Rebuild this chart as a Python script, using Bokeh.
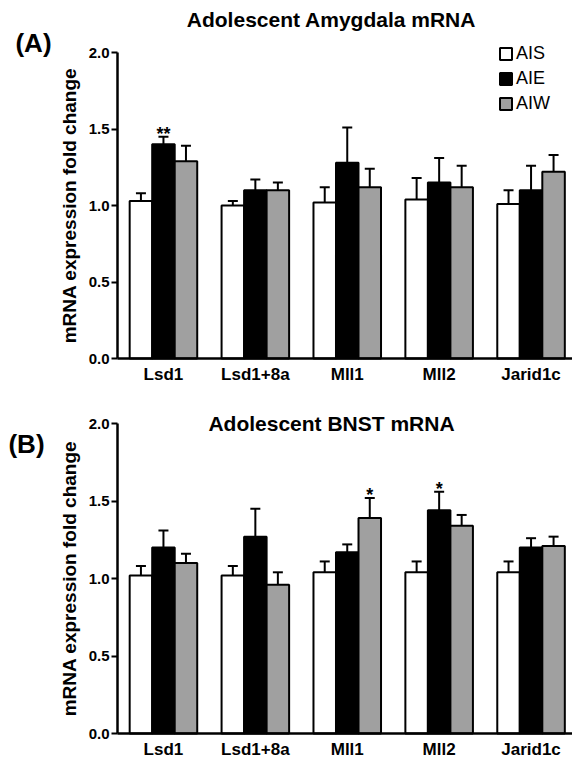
from bokeh.plotting import figure
from bokeh.models import (ColumnDataSource, Range1d, FixedTicker, Whisker, TeeHead,
                          Legend, LegendItem, Label, NumeralTickFormatter, LinearAxis)
from bokeh.layouts import column
from bokeh.core.properties import value
from bokeh.embed import file_html
from bokeh.resources import INLINE

categories = ["Lsd1", "Lsd1+8a", "Mll1", "Mll2", "Jarid1c"]
groups = ["AIS", "AIE", "AIW"]
colors = ["white", "black", "#a0a0a0"]
y_ticks = [0.0, 0.5, 1.0, 1.5, 2.0]

# Panel A: Adolescent Amygdala mRNA (mean fold change and SEM)
amyg_ais = [1.03, 1.00, 1.02, 1.04, 1.01]
amyg_ais_sem = [0.05, 0.03, 0.10, 0.14, 0.09]
amyg_aie = [1.40, 1.10, 1.28, 1.15, 1.10]
amyg_aie_sem = [0.05, 0.07, 0.23, 0.16, 0.16]
amyg_aiw = [1.29, 1.10, 1.12, 1.12, 1.22]
amyg_aiw_sem = [0.10, 0.05, 0.12, 0.14, 0.11]
amyg_ais_sig = ["", "", "", "", ""]
amyg_aie_sig = ["**", "", "", "", ""]
amyg_aiw_sig = ["", "", "", "", ""]

# Panel B: Adolescent BNST mRNA
bnst_ais = [1.02, 1.02, 1.04, 1.04, 1.04]
bnst_ais_sem = [0.06, 0.06, 0.07, 0.07, 0.07]
bnst_aie = [1.20, 1.27, 1.17, 1.44, 1.20]
bnst_aie_sem = [0.11, 0.18, 0.05, 0.12, 0.06]
bnst_aiw = [1.10, 0.96, 1.39, 1.34, 1.21]
bnst_aiw_sem = [0.06, 0.08, 0.13, 0.07, 0.06]
bnst_ais_sig = ["", "", "", "", ""]
bnst_aie_sig = ["", "", "", "*", ""]
bnst_aiw_sig = ["", "", "*", "", ""]

FONT = "Liberation Sans"
BAR_W = 0.245
OFFSETS = [-0.245, 0.0, 0.245]
W = 572
AXIS_X = 117          # pixel column of the y axis
X_UNIT = 91.9         # pixels per category


def make_panel(title, tag, series, height, y0_px, y_unit, tag_pos, title_pos, legend_pos):
    # the frame covers the whole canvas; axes are pinned at x=0 / y=0
    x_start = -AXIS_X / X_UNIT
    x_end = (W - AXIS_X) / X_UNIT
    y_start = -(height - y0_px) / y_unit
    y_end = y0_px / y_unit
    p = figure(width=W, height=height, output_backend="svg", toolbar_location=None,
               x_range=Range1d(x_start, x_end), y_range=Range1d(y_start, y_end),
               x_axis_location=None, y_axis_location=None,
               min_border=0, min_border_left=0, min_border_right=0,
               min_border_top=0, min_border_bottom=0)
    p.xgrid.visible = False
    p.ygrid.visible = False
    p.outline_line_color = None
    p.background_fill_color = "white"
    p.border_fill_color = "white"

    renderers = []
    for k, (vals, sem, sig) in enumerate(series):
        xs = [i + 0.5 + OFFSETS[k] for i in range(len(categories))]
        upper = [v + s for v, s in zip(vals, sem)]
        src = ColumnDataSource(dict(x=xs, top=vals, upper=upper))
        wh = Whisker(source=src, base="x", lower="top", upper="upper", dimension="height",
                     line_width=2, line_color="black",
                     upper_head=TeeHead(size=10, line_width=2, line_color="black"),
                     lower_head=None)
        p.add_layout(wh)
        r = p.vbar(x="x", top="top", width=BAR_W, source=src, fill_color=colors[k],
                   line_color="black", line_width=2)
        renderers.append(r)
        sx = [x for x, s in zip(xs, sig) if s]
        sy = [u for u, s in zip(upper, sig) if s]
        st = [s for s in sig if s]
        if st:
            p.text(x=sx, y=sy, text=st, text_align="center", text_baseline="alphabetic",
                   text_font=value(FONT), text_font_size="18px", text_font_style="bold",
                   text_color="black", y_offset=-3)

    ya = LinearAxis(fixed_location=0, bounds=(0, 2))
    ya.ticker = FixedTicker(ticks=y_ticks)
    ya.formatter = NumeralTickFormatter(format="0.0")
    ya.major_tick_out = 6
    ya.major_tick_in = 0
    ya.minor_tick_out = 0
    ya.minor_tick_in = 0
    ya.major_tick_line_width = 2
    ya.axis_line_width = 2.5
    ya.major_label_standoff = 2
    ya.major_label_text_font = FONT
    ya.major_label_text_font_size = "15px"
    ya.major_label_text_font_style = "bold"
    ya.major_label_text_color = "black"
    ya.axis_label = "mRNA expression fold change"
    ya.axis_label_text_font = FONT
    ya.axis_label_text_font_size = "19px"
    ya.axis_label_text_font_style = "bold"
    ya.axis_label_text_color = "black"
    ya.axis_label_standoff = 6
    p.add_layout(ya, "left")

    xa = LinearAxis(fixed_location=0, bounds=(0, x_end))
    xa.ticker = FixedTicker(ticks=[i + 0.5 for i in range(len(categories))])
    xa.major_label_overrides = {i + 0.5: c for i, c in enumerate(categories)}
    xa.major_tick_out = 0
    xa.major_tick_in = 0
    xa.minor_tick_out = 0
    xa.minor_tick_in = 0
    xa.axis_line_width = 2.5
    xa.major_label_standoff = 6
    xa.major_label_text_font = FONT
    xa.major_label_text_font_size = "17px"
    xa.major_label_text_font_style = "bold"
    xa.major_label_text_color = "black"
    p.add_layout(xa, "below")

    p.add_layout(Label(x=tag_pos[0], y=tag_pos[1], x_units="screen", y_units="screen",
                       text=tag, text_align="center", text_baseline="middle",
                       text_color="black",
                       text_font=FONT, text_font_size="26px", text_font_style="bold"))
    p.add_layout(Label(x=title_pos[0], y=title_pos[1], x_units="screen", y_units="screen",
                       text=title, text_align="center", text_baseline="middle",
                       text_color="black",
                       text_font=FONT, text_font_size="21px", text_font_style="bold"))

    if legend_pos is not None:
        items = [LegendItem(label=g, renderers=[r]) for g, r in zip(groups, renderers)]
        lg = Legend(items=items, location=legend_pos, orientation="vertical",
                    glyph_width=15, glyph_height=15, label_height=15, spacing=4,
                    padding=0, margin=0, label_standoff=3,
                    label_text_font=FONT, label_text_font_size="18px",
                    label_text_color="black",
                    border_line_color=None, background_fill_alpha=0)
        p.add_layout(lg)
    return p


pa = make_panel("Adolescent Amygdala mRNA", "(A)",
                [(amyg_ais, amyg_ais_sem, amyg_ais_sig),
                 (amyg_aie, amyg_aie_sem, amyg_aie_sig),
                 (amyg_aiw, amyg_aiw_sem, amyg_aiw_sig)],
                height=385, y0_px=358, y_unit=153,
                tag_pos=(33, 343), title_pos=(331, 366), legend_pos=(498, 271))
pb = make_panel("Adolescent BNST mRNA", "(B)",
                [(bnst_ais, bnst_ais_sem, bnst_ais_sig),
                 (bnst_aie, bnst_aie_sem, bnst_aie_sig),
                 (bnst_aiw, bnst_aiw_sem, bnst_aiw_sig)],
                height=372, y0_px=348, y_unit=155,
                tag_pos=(26, 314), title_pos=(331, 334), legend_pos=None)

layout = column(pa, pb, spacing=0)
open("out.html", "w").write(file_html(layout, INLINE))
